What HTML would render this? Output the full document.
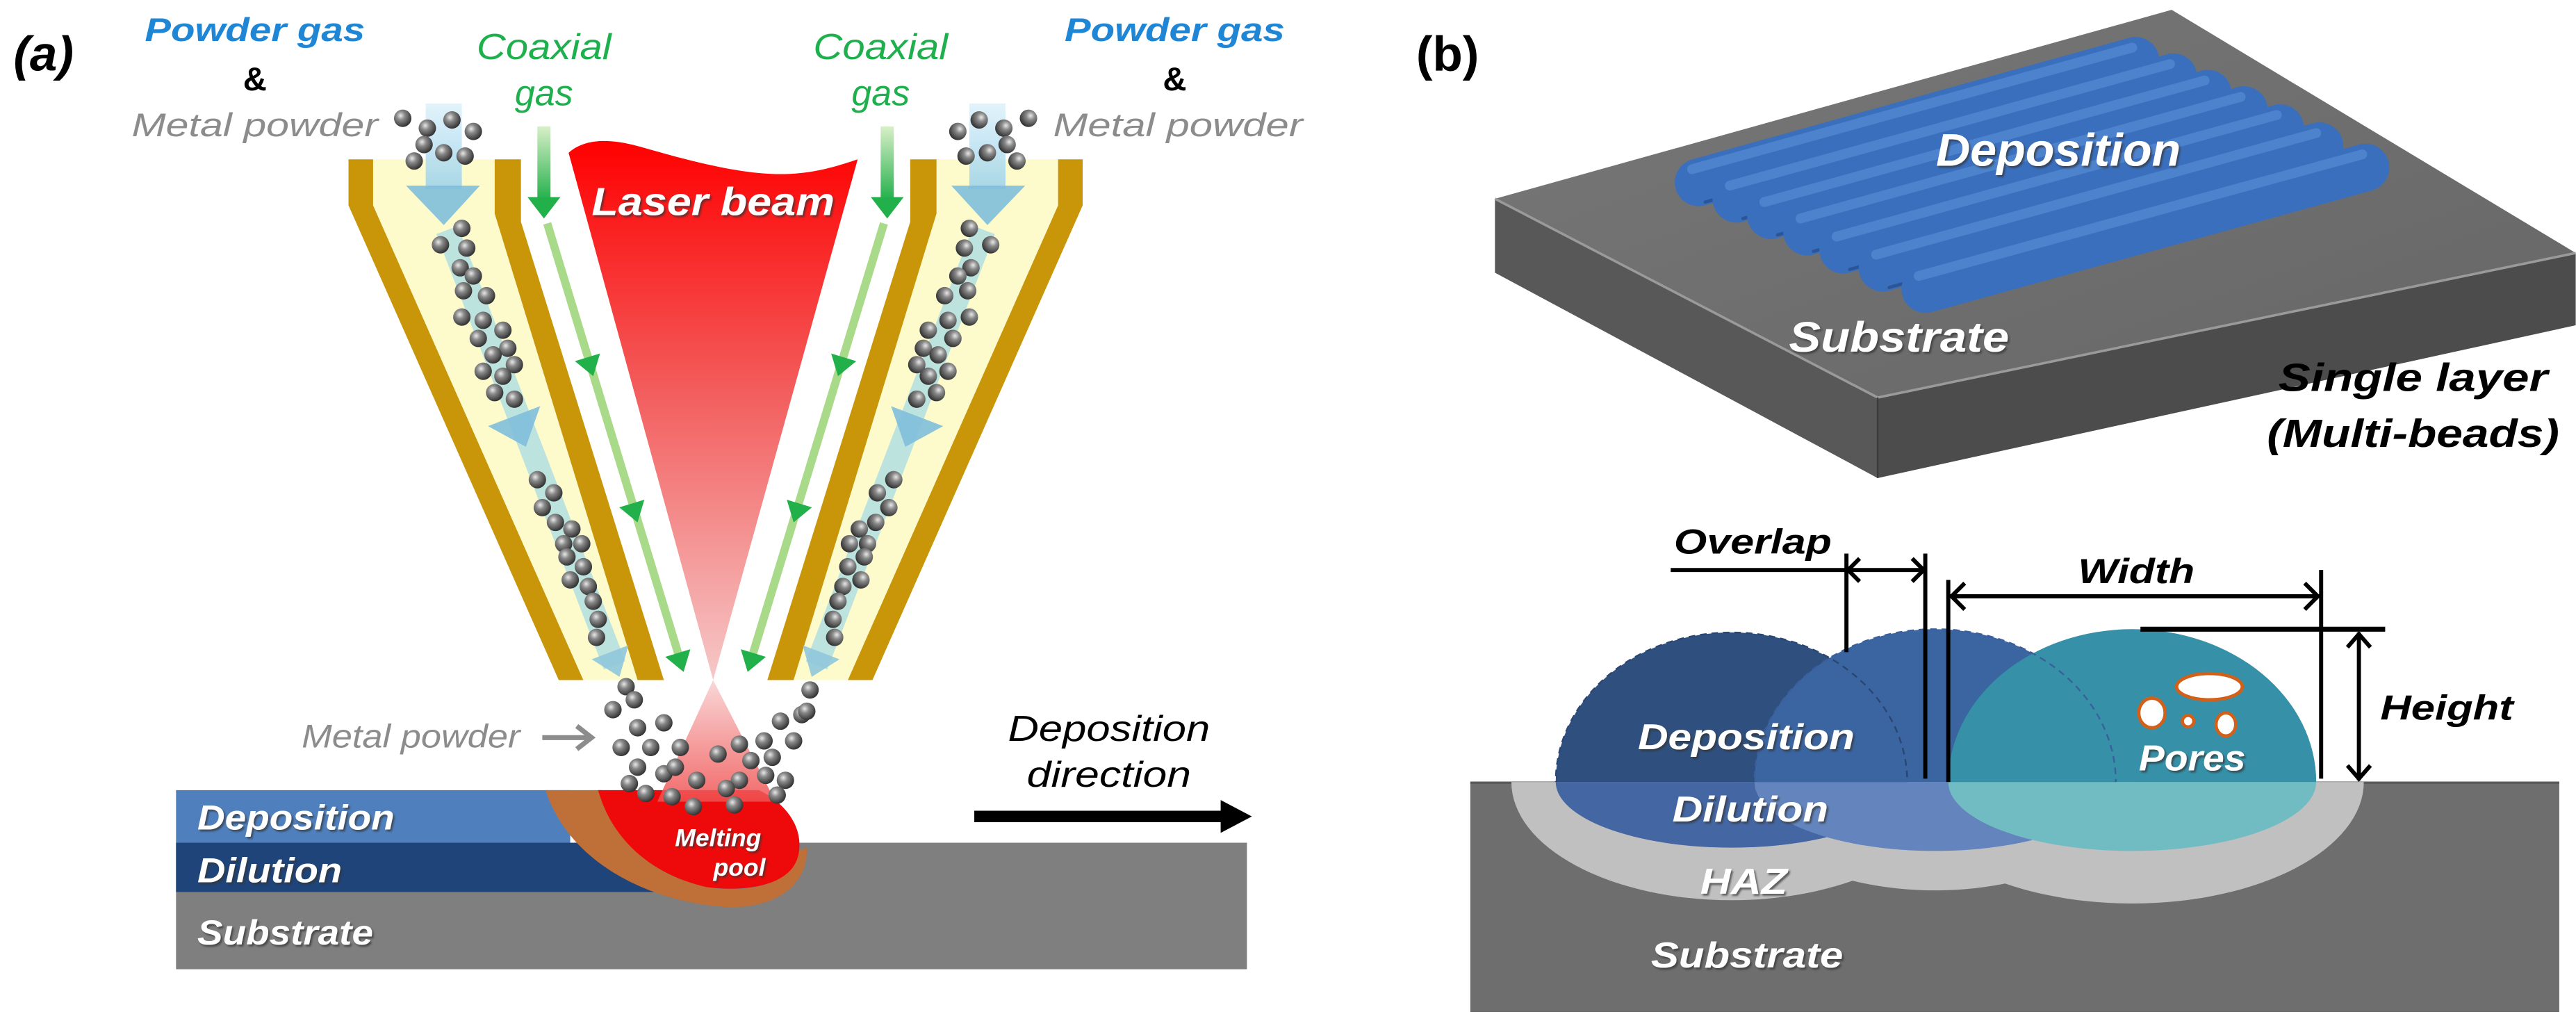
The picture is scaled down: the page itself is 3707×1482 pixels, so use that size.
<!DOCTYPE html>
<html><head><meta charset="utf-8"><style>
html,body{margin:0;padding:0;background:#fff;}
svg{display:block;}
text{font-family:"Liberation Sans",Arial,sans-serif;}
</style></head><body>
<svg width="3707" height="1482" viewBox="0 0 1568 627" xmlns="http://www.w3.org/2000/svg">
<defs>
<radialGradient id="ball" cx="0.38" cy="0.35" r="0.7">
<stop offset="0" stop-color="#e8e8e8"/><stop offset="0.35" stop-color="#8a8a8a"/><stop offset="1" stop-color="#2a2a2a"/>
</radialGradient>
<linearGradient id="laser" x1="0" y1="0" x2="0" y2="1">
<stop offset="0" stop-color="#ff0000"/><stop offset="0.45" stop-color="#f35a5a"/><stop offset="1" stop-color="#f6c8c8"/>
</linearGradient>
<linearGradient id="cone" x1="0" y1="0" x2="0" y2="1">
<stop offset="0" stop-color="#f8d0d0"/><stop offset="1" stop-color="#f05050"/>
</linearGradient>
<linearGradient id="gv" x1="0" y1="0" x2="0" y2="1">
<stop offset="0" stop-color="#d8efc8"/><stop offset="1" stop-color="#22b04a"/>
</linearGradient>
<linearGradient id="bv" x1="0" y1="0" x2="0" y2="1">
<stop offset="0" stop-color="#dff2fb"/><stop offset="1" stop-color="#9fd3ea"/>
</linearGradient>
<linearGradient id="topface" x1="0" y1="0" x2="1" y2="1">
<stop offset="0" stop-color="#787878"/><stop offset="1" stop-color="#666"/>
</linearGradient>
<clipPath id="above"><rect x="880" y="300" width="700" height="176"/></clipPath>
<clipPath id="below"><rect x="880" y="476" width="700" height="150"/></clipPath>
<filter id="sh" x="-10%" y="-10%" width="130%" height="140%"><feDropShadow dx="1" dy="1.2" stdDeviation="0.6" flood-color="#333" flood-opacity="0.7"/></filter>
<g id="nozzle">
  <polygon points="212,97 227,97 227,125 355,414 340,414 212,125" fill="#c9960a"/>
  <polygon points="227,97 301,97 301,130 388,414 355,414 227,125" fill="#fdfbcc"/>
  <polygon points="301,97 317,97 317,135 404,414 388,414 301,130" fill="#c9960a"/>
  <rect x="259" y="63" width="22" height="52" fill="url(#bv)" opacity="0.9"/>
  <polygon points="247,113 292,113 270,137" fill="#7fbedc" opacity="0.9"/>
  <line x1="272" y1="140" x2="374" y2="405" stroke="#a8dce6" stroke-width="14" opacity="0.75"/>
  <g transform="translate(320,272) rotate(-21)"><polygon points="-17,-20 17,-20 0,0" fill="#7fbedc" opacity="0.9"/></g>
  <g transform="translate(377,412) rotate(-21)"><polygon points="-12,-16 12,-16 0,0" fill="#8fc6dc" opacity="0.9"/></g>
  <rect x="327" y="77" width="8" height="45" fill="url(#gv)"/>
  <polygon points="321,120 341,120 331,133" fill="#22b04a"/>
  <line x1="333" y1="136" x2="414" y2="402" stroke="#a9da8a" stroke-width="5"/>
  <g transform="translate(361,229) rotate(-17)"><polygon points="-8,-12 8,-12 0,0" fill="#22b04a"/></g>
  <g transform="translate(388,318) rotate(-17)"><polygon points="-8,-12 8,-12 0,0" fill="#22b04a"/></g>
  <g transform="translate(416,409) rotate(-17)"><polygon points="-8,-12 8,-12 0,0" fill="#22b04a"/></g>
  <g fill="url(#ball)">
  <circle cx="245" cy="72" r="5.3"/><circle cx="260" cy="78" r="5.3"/><circle cx="275" cy="73" r="5.3"/><circle cx="288" cy="80" r="5.3"/><circle cx="258" cy="88" r="5.3"/><circle cx="270" cy="93" r="5.3"/><circle cx="283" cy="95" r="5.3"/><circle cx="252" cy="98" r="5.3"/>
  <circle cx="268" cy="149" r="5.3"/><circle cx="281" cy="139" r="5.3"/><circle cx="284" cy="151" r="5.3"/><circle cx="280" cy="163" r="5.3"/><circle cx="288" cy="168" r="5.3"/><circle cx="282" cy="177" r="5.3"/><circle cx="296" cy="180" r="5.3"/><circle cx="281" cy="193" r="5.3"/><circle cx="294" cy="195" r="5.3"/><circle cx="306" cy="201" r="5.3"/><circle cx="291" cy="206" r="5.3"/><circle cx="309" cy="212" r="5.3"/><circle cx="300" cy="216" r="5.3"/><circle cx="313" cy="222" r="5.3"/><circle cx="294" cy="226" r="5.3"/><circle cx="306" cy="229" r="5.3"/><circle cx="301" cy="239" r="5.3"/><circle cx="313" cy="243" r="5.3"/>
  <circle cx="327" cy="292" r="5.3"/><circle cx="337" cy="300" r="5.3"/><circle cx="330" cy="309" r="5.3"/><circle cx="338" cy="318" r="5.3"/><circle cx="348" cy="322" r="5.3"/><circle cx="343" cy="331" r="5.3"/><circle cx="354" cy="331" r="5.3"/><circle cx="345" cy="339" r="5.3"/><circle cx="355" cy="345" r="5.3"/><circle cx="347" cy="353" r="5.3"/><circle cx="358" cy="357" r="5.3"/><circle cx="361" cy="366" r="5.3"/><circle cx="364" cy="377" r="5.3"/><circle cx="363" cy="388" r="5.3"/>
  </g>
</g>
</defs>

<text x="8" y="43" font-size="30" font-weight="bold" font-style="italic" fill="#000">(a)</text>
<text x="155" y="25" font-size="20" font-style="italic" font-weight="bold" fill="#1f86d6" text-anchor="middle" textLength="134" lengthAdjust="spacingAndGlyphs">Powder gas</text>
<text x="155" y="55" font-size="20" font-weight="bold" fill="#000" text-anchor="middle">&amp;</text>
<text x="155" y="83" font-size="20" font-style="italic" fill="#8c8c8c" text-anchor="middle" textLength="150" lengthAdjust="spacingAndGlyphs">Metal powder</text>
<text x="331" y="36" font-size="22" font-style="italic" fill="#1fb04e" text-anchor="middle" textLength="82" lengthAdjust="spacingAndGlyphs">Coaxial</text>
<text x="331" y="64" font-size="22" font-style="italic" fill="#1fb04e" text-anchor="middle">gas</text>
<text x="536" y="36" font-size="22" font-style="italic" fill="#1fb04e" text-anchor="middle" textLength="82" lengthAdjust="spacingAndGlyphs">Coaxial</text>
<text x="536" y="64" font-size="22" font-style="italic" fill="#1fb04e" text-anchor="middle">gas</text>
<text x="715" y="25" font-size="20" font-style="italic" font-weight="bold" fill="#1f86d6" text-anchor="middle" textLength="134" lengthAdjust="spacingAndGlyphs">Powder gas</text>
<text x="715" y="55" font-size="20" font-weight="bold" fill="#000" text-anchor="middle">&amp;</text>
<text x="717" y="83" font-size="20" font-style="italic" fill="#8c8c8c" text-anchor="middle" textLength="152" lengthAdjust="spacingAndGlyphs">Metal powder</text>

<rect x="107" y="513" width="652" height="77" fill="#7f7f7f"/>
<rect x="107" y="481" width="240" height="32" fill="#4f80bd"/>
<rect x="107" y="513" width="310" height="30" fill="#1f4479"/>
<path d="M332,481 L366,481 C372,510 395,532 430,540 C452,544 482,540 486,518 L491,516 C492,540 470,554 440,552 C390,548 345,522 332,481 Z" fill="#bf6f38"/>
<path d="M364,481 L462,481 C480,490 489,505 486,520 C482,540 452,543 430,540 C395,532 372,510 364,481 Z" fill="#ee0a0a"/>

<use href="#nozzle"/>
<use href="#nozzle" transform="translate(871,0) scale(-1,1)"/>

<path d="M346,93 C356,84 372,84 392,90 C420,98 450,106 475,106 C495,106 510,101 522,97 L434,414 Z" fill="url(#laser)"/>
<polygon points="434,414 400,488 472,488" fill="url(#cone)" opacity="0.85"/>
<text x="434" y="131" font-size="24" font-weight="bold" font-style="italic" fill="#fff" text-anchor="middle" textLength="148" lengthAdjust="spacingAndGlyphs" filter="url(#sh)">Laser beam</text>

<g fill="url(#ball)">
<circle cx="381" cy="418" r="5.3"/><circle cx="373" cy="432" r="5.3"/><circle cx="386" cy="426" r="5.3"/><circle cx="388" cy="443" r="5.3"/><circle cx="404" cy="440" r="5.3"/><circle cx="378" cy="455" r="5.3"/><circle cx="396" cy="455" r="5.3"/><circle cx="388" cy="467" r="5.3"/><circle cx="404" cy="471" r="5.3"/><circle cx="411" cy="467" r="5.3"/><circle cx="414" cy="455" r="5.3"/><circle cx="437" cy="459" r="5.3"/><circle cx="383" cy="477" r="5.3"/><circle cx="393" cy="483" r="5.3"/><circle cx="409" cy="485" r="5.3"/><circle cx="422" cy="491" r="5.3"/><circle cx="424" cy="475" r="5.3"/><circle cx="450" cy="475" r="5.3"/><circle cx="442" cy="480" r="5.3"/><circle cx="447" cy="490" r="5.3"/><circle cx="457" cy="463" r="5.3"/><circle cx="465" cy="451" r="5.3"/><circle cx="475" cy="439" r="5.3"/><circle cx="488" cy="435" r="5.3"/><circle cx="493" cy="420" r="5.3"/><circle cx="491" cy="433" r="5.3"/><circle cx="483" cy="451" r="5.3"/><circle cx="470" cy="461" r="5.3"/><circle cx="478" cy="475" r="5.3"/><circle cx="473" cy="484" r="5.3"/><circle cx="466" cy="472" r="5.3"/><circle cx="450" cy="453" r="5.3"/>
</g>

<text x="250" y="455" font-size="20" font-style="italic" fill="#8c8c8c" text-anchor="middle" textLength="133" lengthAdjust="spacingAndGlyphs">Metal powder</text>
<line x1="330" y1="449" x2="358" y2="449" stroke="#8c8c8c" stroke-width="3"/>
<polyline points="351,442 360,449 351,456" fill="none" stroke="#8c8c8c" stroke-width="3"/>

<text x="675" y="451" font-size="22" font-style="italic" fill="#000" text-anchor="middle" textLength="123" lengthAdjust="spacingAndGlyphs">Deposition</text>
<text x="675" y="479" font-size="22" font-style="italic" fill="#000" text-anchor="middle" textLength="100" lengthAdjust="spacingAndGlyphs">direction</text>
<line x1="593" y1="497" x2="745" y2="497" stroke="#000" stroke-width="7"/>
<polygon points="743,487 762,497 743,507" fill="#000"/>

<g font-weight="bold" font-style="italic" fill="#fff" filter="url(#sh)">
<text x="120" y="505" font-size="21" textLength="120" lengthAdjust="spacingAndGlyphs">Deposition</text>
<text x="120" y="537" font-size="21" textLength="88" lengthAdjust="spacingAndGlyphs">Dilution</text>
<text x="120" y="575" font-size="21" textLength="107" lengthAdjust="spacingAndGlyphs">Substrate</text>
<text x="437" y="515" font-size="15" text-anchor="middle">Melting</text>
<text x="450" y="533" font-size="15" text-anchor="middle">pool</text>
</g>

<text x="862" y="43" font-size="30" font-weight="bold" fill="#000">(b)</text>
<polygon points="910,166 1143,291 1143,242 910,121" fill="#585858"/>
<polygon points="1143,291 1568,198 1568,154 1143,242" fill="#4c4c4c"/>
<polygon points="910,121 1322,6 1568,154 1143,242" fill="url(#topface)"/>
<polyline points="910,121 1143,242 1568,154" fill="none" stroke="#9a9a9a" stroke-width="1.5"/>
<line x1="1143" y1="242" x2="1143" y2="291" stroke="#3a3a3a" stroke-width="1"/>
<g stroke-linecap="round">
<g><line x1="1034" y1="111" x2="1300" y2="37" stroke="#3a6fbe" stroke-width="29"/><line x1="1030" y1="103" x2="1298" y2="29" stroke="#5b8fd6" stroke-width="6" opacity="0.6"/><line x1="1038" y1="123" x2="1304" y2="49" stroke="#2c5596" stroke-width="2"/></g>
<g><line x1="1057" y1="121" x2="1323" y2="47" stroke="#3a6fbe" stroke-width="29"/><line x1="1053" y1="113" x2="1321" y2="39" stroke="#5b8fd6" stroke-width="6" opacity="0.6"/><line x1="1061" y1="133" x2="1327" y2="59" stroke="#2c5596" stroke-width="2"/></g>
<g><line x1="1078" y1="131" x2="1344" y2="57" stroke="#3a6fbe" stroke-width="29"/><line x1="1074" y1="123" x2="1342" y2="49" stroke="#5b8fd6" stroke-width="6" opacity="0.6"/><line x1="1082" y1="143" x2="1348" y2="69" stroke="#2c5596" stroke-width="2"/></g>
<g><line x1="1100" y1="141" x2="1366" y2="67" stroke="#3a6fbe" stroke-width="29"/><line x1="1096" y1="133" x2="1364" y2="59" stroke="#5b8fd6" stroke-width="6" opacity="0.6"/><line x1="1104" y1="153" x2="1370" y2="79" stroke="#2c5596" stroke-width="2"/></g>
<g><line x1="1122" y1="152" x2="1388" y2="78" stroke="#3a6fbe" stroke-width="29"/><line x1="1118" y1="144" x2="1386" y2="70" stroke="#5b8fd6" stroke-width="6" opacity="0.6"/><line x1="1126" y1="164" x2="1392" y2="90" stroke="#2c5596" stroke-width="2"/></g>
<g><line x1="1146" y1="163" x2="1412" y2="89" stroke="#3a6fbe" stroke-width="29"/><line x1="1142" y1="155" x2="1410" y2="81" stroke="#5b8fd6" stroke-width="6" opacity="0.6"/><line x1="1150" y1="175" x2="1416" y2="101" stroke="#2c5596" stroke-width="2"/></g>
<g><line x1="1172" y1="176" x2="1440" y2="102" stroke="#3a6fbe" stroke-width="29"/><line x1="1168" y1="168" x2="1438" y2="94" stroke="#5b8fd6" stroke-width="6" opacity="0.6"/></g>
</g>
<g font-weight="bold" font-style="italic" fill="#fff" filter="url(#sh)">
<text x="1253" y="101" font-size="28" text-anchor="middle" textLength="149" lengthAdjust="spacingAndGlyphs">Deposition</text>
<text x="1156" y="214" font-size="26" text-anchor="middle" textLength="134" lengthAdjust="spacingAndGlyphs">Substrate</text>
</g>
<g font-weight="bold" font-style="italic" fill="#000">
<text x="1469" y="238" font-size="24" text-anchor="middle" textLength="164" lengthAdjust="spacingAndGlyphs">Single layer</text>
<text x="1469" y="272" font-size="24" text-anchor="middle" textLength="178" lengthAdjust="spacingAndGlyphs">(Multi-beads)</text>
</g>

<rect x="895" y="476" width="663" height="140" fill="#6e6e6e"/>
<line x1="895" y1="476.5" x2="1558" y2="476.5" stroke="#5a5a5a" stroke-width="1.5"/>
<g clip-path="url(#below)" fill="#c0c0c0">
<ellipse cx="1054" cy="476" rx="134" ry="72"/>
<ellipse cx="1178" cy="476" rx="122" ry="66"/>
<ellipse cx="1298" cy="476" rx="141" ry="74"/>
</g>
<g clip-path="url(#below)">
<ellipse cx="1054" cy="476" rx="107" ry="40" fill="#4466a2"/>
<ellipse cx="1178" cy="476" rx="110" ry="42" fill="#6384bd"/>
<ellipse cx="1298" cy="476" rx="112" ry="42" fill="#71bcc2"/>
</g>
<g clip-path="url(#above)">
<ellipse cx="1054" cy="476" rx="107" ry="91" fill="#2f507e"/>
<ellipse cx="1178" cy="476" rx="110" ry="93" fill="#3b65a1"/>
<ellipse cx="1054" cy="476" rx="107" ry="91" fill="none" stroke="#2a4570" stroke-width="1" stroke-dasharray="4,3"/>
<ellipse cx="1298" cy="476" rx="112" ry="93" fill="#3590a8"/>
<ellipse cx="1178" cy="476" rx="110" ry="93" fill="none" stroke="#3b5f9a" stroke-width="1" stroke-dasharray="4,3"/>
</g>
<g fill="#fff" stroke="#d0601a" stroke-width="2">
<ellipse cx="1345" cy="418" rx="20" ry="8"/>
<ellipse cx="1310" cy="434" rx="8" ry="9"/>
<circle cx="1332" cy="439" r="3.5"/>
<ellipse cx="1355" cy="441" rx="6" ry="7"/>
</g>
<g stroke="#000" stroke-width="2.5" fill="none">
<line x1="1017" y1="347" x2="1124" y2="347"/>
<line x1="1124" y1="337" x2="1124" y2="397"/>
<line x1="1172" y1="337" x2="1172" y2="474"/>
<line x1="1124" y1="347" x2="1172" y2="347"/>
<polyline points="1132,340 1125,347 1132,354"/>
<polyline points="1164,340 1171,347 1164,354"/>
<line x1="1186" y1="353" x2="1186" y2="476"/>
<line x1="1413" y1="347" x2="1413" y2="474"/>
<line x1="1187" y1="363" x2="1412" y2="363"/>
<polyline points="1196,355 1188,363 1196,371"/>
<polyline points="1403,355 1411,363 1403,371"/>
<line x1="1303" y1="383" x2="1452" y2="383" stroke-width="3"/>
<line x1="1436" y1="385" x2="1436" y2="475"/>
<polyline points="1429,394 1436,386 1443,394"/>
<polyline points="1429,466 1436,474 1443,466"/>
</g>
<g font-weight="bold" font-style="italic" fill="#000">
<text x="1019" y="337" font-size="21" textLength="96" lengthAdjust="spacingAndGlyphs">Overlap</text>
<text x="1265" y="355" font-size="21" textLength="71" lengthAdjust="spacingAndGlyphs">Width</text>
<text x="1449" y="438" font-size="21" textLength="81" lengthAdjust="spacingAndGlyphs">Height</text>
</g>
<g font-weight="bold" font-style="italic" fill="#fff" filter="url(#sh)">
<text x="997" y="456" font-size="22" textLength="132" lengthAdjust="spacingAndGlyphs">Deposition</text>
<text x="1018" y="500" font-size="22" textLength="95" lengthAdjust="spacingAndGlyphs">Dilution</text>
<text x="1035" y="544" font-size="22" textLength="53" lengthAdjust="spacingAndGlyphs">HAZ</text>
<text x="1005" y="589" font-size="22" textLength="117" lengthAdjust="spacingAndGlyphs">Substrate</text>
<text x="1302" y="469" font-size="22" textLength="65" lengthAdjust="spacingAndGlyphs">Pores</text>
</g>
</svg>
</body></html>
